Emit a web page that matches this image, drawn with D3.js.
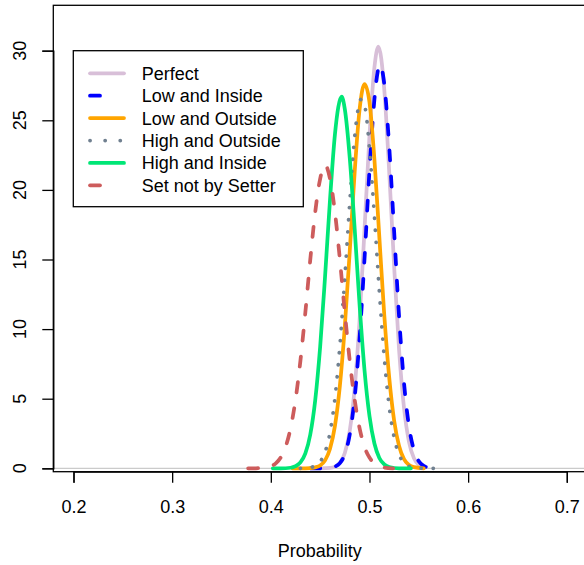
<!DOCTYPE html>
<html>
<head>
<meta charset="utf-8">
<script src="https://cdn.jsdelivr.net/npm/d3@7"></script>
<style>
  body { margin: 0; background: #fff; }
  svg { display: block; font-family: "Liberation Sans", Arial, Helvetica, sans-serif; }
</style>
</head>
<body>
<div id="chart"></div>
<script>
// density curves (probability, density)
var perfectX = [0.450, 0.460, 0.465, 0.470, 0.475, 0.480, 0.485, 0.490, 0.495, 0.500, 0.505, 0.509, 0.515, 0.520, 0.525, 0.530, 0.535, 0.540, 0.545, 0.550, 0.556];
var perfectY = [0.00, 0.03, 0.12, 0.38, 1.10, 2.70, 5.78, 10.7, 17.2, 23.9, 28.8, 30.3, 27.2, 21.3, 14.5, 8.5, 4.34, 1.92, 0.73, 0.24, 0.05];

var lowInsideX = [0.440, 0.450, 0.460, 0.465, 0.470, 0.475, 0.480, 0.485, 0.490, 0.495, 0.500, 0.505, 0.5107, 0.515, 0.520, 0.525, 0.530, 0.535, 0.540, 0.545, 0.550, 0.555, 0.560, 0.570];
var lowInsideY = [0.00, 0.00, 0.03, 0.12, 0.37, 1.02, 2.43, 5.10, 9.38, 15.1, 21.4, 26.5, 29.0, 27.6, 23.1, 17.0, 10.9, 6.13, 3.03, 1.32, 0.50, 0.17, 0.05, 0.00];

var lowOutsideX = [0.422, 0.430, 0.440, 0.445, 0.450, 0.455, 0.460, 0.465, 0.470, 0.475, 0.480, 0.485, 0.490, 0.495, 0.500, 0.505, 0.510, 0.515, 0.520, 0.525, 0.530, 0.535, 0.540, 0.545, 0.555];
var lowOutsideY = [0.00, 0.00, 0.02, 0.07, 0.20, 0.57, 1.40, 3.05, 5.93, 10.2, 15.6, 21.3, 25.8, 27.6, 26.3, 22.2, 16.6, 11.0, 6.52, 3.42, 1.60, 0.66, 0.24, 0.08, 0.00];

var highOutsideX = [0.430, 0.440, 0.445, 0.450, 0.455, 0.460, 0.465, 0.470, 0.475, 0.480, 0.485, 0.4915, 0.495, 0.500, 0.505, 0.510, 0.515, 0.520, 0.525, 0.530, 0.535, 0.540, 0.545, 0.550, 0.568];
var highOutsideY = [0.00, 0.06, 0.17, 0.47, 1.17, 2.57, 5.04, 8.81, 13.7, 19.1, 23.8, 26.5, 26.1, 23.0, 18.1, 12.7, 7.94, 4.44, 2.21, 0.98, 0.39, 0.14, 0.04, 0.01, 0.00];

var highInsideX = [0.402, 0.410, 0.420, 0.425, 0.430, 0.435, 0.440, 0.445, 0.450, 0.455, 0.460, 0.465, 0.4718, 0.475, 0.480, 0.485, 0.490, 0.495, 0.500, 0.505, 0.510, 0.515, 0.520, 0.530, 0.542];
var highInsideY = [0.00, 0.00, 0.04, 0.15, 0.42, 1.07, 2.43, 4.89, 8.72, 13.8, 19.3, 24.0, 26.7, 25.8, 22.3, 17.2, 11.7, 7.02, 3.75, 1.78, 0.74, 0.28, 0.09, 0.00, 0.00];

var notSetterX = [0.377, 0.385, 0.390, 0.395, 0.400, 0.405, 0.410, 0.415, 0.420, 0.425, 0.430, 0.435, 0.440, 0.445, 0.450, 0.455, 0.460, 0.465, 0.470, 0.475, 0.480, 0.485, 0.490, 0.495, 0.500, 0.505, 0.510, 0.515, 0.524];
var notSetterY = [0.00, 0.00, 0.02, 0.06, 0.15, 0.35, 0.77, 1.54, 2.87, 4.91, 7.73, 11.2, 15.0, 18.4, 20.8, 21.8, 20.8, 18.4, 15.0, 11.2, 7.73, 4.91, 2.87, 1.54, 0.77, 0.35, 0.15, 0.06, 0.00];

var seriesNames = ["Perfect", "Low and Inside", "Low and Outside", "High and Outside", "High and Inside", "Set not by Setter"];
var xTicks = [0.2, 0.3, 0.4, 0.5, 0.6, 0.7];
var yTicks = [0, 5, 10, 15, 20, 25, 30];

var seriesX = [perfectX, lowInsideX, lowOutsideX, highOutsideX, highInsideX, notSetterX];
var seriesY = [perfectY, lowInsideY, lowOutsideY, highOutsideY, highInsideY, notSetterY];

// line styles, same order as seriesNames
var styles = [
  {color: "#d8bfd8", dash: null},
  {color: "#0000ff", dash: "10,16"},
  {color: "#ffa500", dash: null},
  {color: "#708090", dash: "0.1,12"},
  {color: "#00e676", dash: null},
  {color: "#cd5c5c", dash: "10,16"}
];

var width = 584, height = 565;
var lineW = 3.75;

var svg = d3.select("#chart").append("svg")
  .attr("width", width)
  .attr("height", height);

var x = d3.scaleLinear().domain([0.2, 0.7]).range([73.5, 566.8]);
var y = d3.scaleLinear().domain([0, 30]).range([468.3, 50.7]);

// plot region edges (right edge falls just off the picture)
var box = {left: 53.3, top: 5.3, right: 586, bottom: 471.7};

// grey zero line that density plots get
svg.append("line")
  .attr("x1", box.left).attr("x2", box.right)
  .attr("y1", y(0)).attr("y2", y(0))
  .attr("stroke", "#bebebe")
  .attr("stroke-width", 1);

var line = d3.line()
  .x(function (d) { return x(d[0]); })
  .y(function (d) { return y(d[1]); })
  .curve(d3.curveMonotoneX);

seriesNames.forEach(function (name, i) {
  var pts = seriesX[i].map(function (v, j) { return [v, seriesY[i][j]]; });
  svg.append("path")
    .datum(pts)
    .attr("class", "line _" + i)
    .attr("d", line)
    .attr("fill", "none")
    .attr("stroke", styles[i].color)
    .attr("stroke-width", lineW)
    .attr("stroke-linecap", "round")
    .attr("stroke-linejoin", "round")
    .attr("stroke-dasharray", styles[i].dash);
});

// box around the plot
svg.append("rect")
  .attr("x", box.left).attr("y", box.top)
  .attr("width", box.right - box.left)
  .attr("height", box.bottom - box.top)
  .attr("fill", "none")
  .attr("stroke", "#000")
  .attr("stroke-width", 1.3);

// x axis
var xAxis = d3.axisBottom(x)
  .tickValues(xTicks)
  .tickFormat(d3.format(".1f"))
  .tickSize(11)
  .tickPadding(18);

svg.append("g")
  .attr("class", "x axis")
  .attr("transform", "translate(0," + box.bottom + ")")
  .call(xAxis);

// y axis, labels turned like R does
var yAxis = d3.axisLeft(y)
  .tickValues(yTicks)
  .tickSize(11)
  .tickFormat("");

svg.append("g")
  .attr("class", "y axis")
  .attr("transform", "translate(" + box.left + ",0)")
  .call(yAxis);

svg.selectAll(".axis .domain").attr("stroke", "#000").attr("stroke-width", 1.3);
svg.selectAll(".axis .tick line").attr("stroke", "#000").attr("stroke-width", 1.3);
svg.selectAll(".x.axis .tick text")
  .attr("font-size", 18)
  .attr("fill", "#000")
  .attr("font-family", "Liberation Sans, Arial, sans-serif");

svg.append("g").selectAll("text")
  .data(yTicks)
  .enter().append("text")
    .attr("transform", function (d) { return "translate(26," + y(d) + ") rotate(-90)"; })
    .attr("text-anchor", "middle")
    .attr("font-size", 18)
    .attr("fill", "#000")
    .text(function (d) { return d; });

svg.append("text")
  .attr("x", (box.left + box.right) / 2)
  .attr("y", 557)
  .attr("text-anchor", "middle")
  .attr("font-size", 18)
  .attr("fill", "#000")
  .text("Probability");

// legend
var legend = svg.append("g").attr("class", "legend");
legend.append("rect")
  .attr("x", 73.3).attr("y", 50.7)
  .attr("width", 230).attr("height", 156)
  .attr("fill", "#fff")
  .attr("stroke", "#000")
  .attr("stroke-width", 1.3);

seriesNames.forEach(function (name, i) {
  var ly = 73.3 + i * 22.4;
  legend.append("line")
    .attr("x1", 90).attr("x2", 124)
    .attr("y1", ly).attr("y2", ly)
    .attr("stroke", styles[i].color)
    .attr("stroke-width", lineW)
    .attr("stroke-linecap", "round")
    .attr("stroke-dasharray", styles[i].dash ? (i == 3 ? "0.1,15" : "10,24") : null);
  legend.append("text")
    .attr("x", 141.7)
    .attr("y", ly + 6.5)
    .attr("font-size", 18)
    .attr("fill", "#000")
    .text(name);
});
</script>
</body>
</html>
